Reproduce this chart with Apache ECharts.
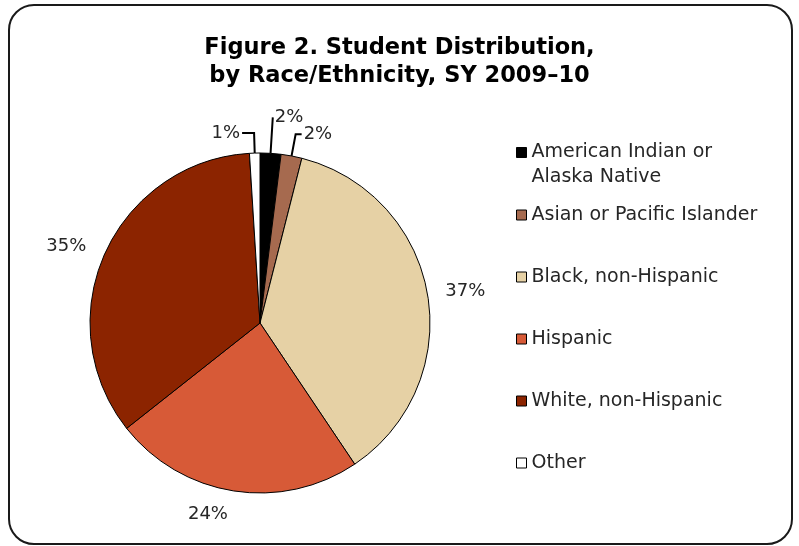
<!DOCTYPE html>
<html>
<head>
<meta charset="utf-8">
<script src="https://cdn.jsdelivr.net/npm/echarts@6/dist/echarts.min.js"></script>
<style>
  html, body { margin: 0; padding: 0; background: #fff; }
  #chart { width: 799px; height: 546px; }
</style>
</head>
<body>
<div id="chart"></div>
<script>
// categories and shares (%) as printed on the chart
var categories = ['American Indian or Alaska Native', 'Asian or Pacific Islander', 'Black, non-Hispanic', 'Hispanic', 'White, non-Hispanic', 'Other']
var shares = [2, 2, 37, 24, 35, 1]
var colors = ['#000000', '#A66A4F', '#E6D1A5', '#D75A37', '#8C2400', '#FFFFFF']
// leader line lengths per slice (small slices get a visible line)
var lineShow = [true, true, false, false, false, true]
var lineLen = [36, 22, 16, 24, 18, 20]
var lineLen2 = [0, 6, 0, 0, 0, 12]

var font = 'DejaVu Sans, Verdana, sans-serif'
var chart = echarts.init(document.getElementById('chart'))

var pieData = categories.map(function (name, i) {
  return {
    name: name,
    value: shares[i],
    itemStyle: { color: colors[i] },
    labelLine: { show: lineShow[i], length: lineLen[i], length2: lineLen2[i] }
  }
})

chart.setOption({
  animation: false,
  backgroundColor: '#fff',
  title: {
    text: 'Figure 2. Student Distribution,\nby Race/Ethnicity, SY 2009–10',
    left: 'center',
    top: 29,
    textStyle: { fontFamily: font, fontSize: 22.5, fontWeight: 'bold', color: '#000', lineHeight: 28 }
  },
  graphic: [{
    type: 'rect',
    shape: { x: 9, y: 5, width: 783, height: 539, r: 25 },
    style: { fill: 'none', stroke: '#1a1a1a', lineWidth: 2 },
    silent: true
  }],
  legend: [{
    // blank first line keeps the icon level with "American Indian or"
    data: [categories[0]],
    orient: 'vertical',
    left: 516,
    top: 115,
    padding: 0,
    selectedMode: false,
    icon: 'rect',
    itemWidth: 10,
    itemHeight: 10,
    itemStyle: { borderColor: '#000', borderWidth: 1 },
    formatter: function (n) { return '\n' + n.replace('or ', 'or\n') },
    textStyle: { fontFamily: font, fontSize: 19, color: '#262626', lineHeight: 25 }
  }, {
    data: categories.slice(1),
    orient: 'vertical',
    left: 516,
    top: 205,
    padding: 0,
    itemGap: 42,
    selectedMode: false,
    icon: 'rect',
    itemWidth: 10,
    itemHeight: 10,
    itemStyle: { borderColor: '#000', borderWidth: 1 },
    textStyle: { fontFamily: font, fontSize: 19, color: '#262626', lineHeight: 20 }
  }],
  series: [{
    type: 'pie',
    center: [260, 323],
    radius: 170,
    startAngle: 90,
    clockwise: true,
    avoidLabelOverlap: false,
    itemStyle: { borderColor: '#000', borderWidth: 1 },
    label: {
      show: true,
      position: 'outside',
      formatter: function (p) { return p.value + '%' },
      fontFamily: font,
      fontSize: 18,
      color: '#262626',
      distanceToLabelLine: 2
    },
    labelLine: { lineStyle: { color: '#000', width: 2 } },
    emphasis: { disabled: true },
    data: pieData
  }]
})
</script>
</body>
</html>
